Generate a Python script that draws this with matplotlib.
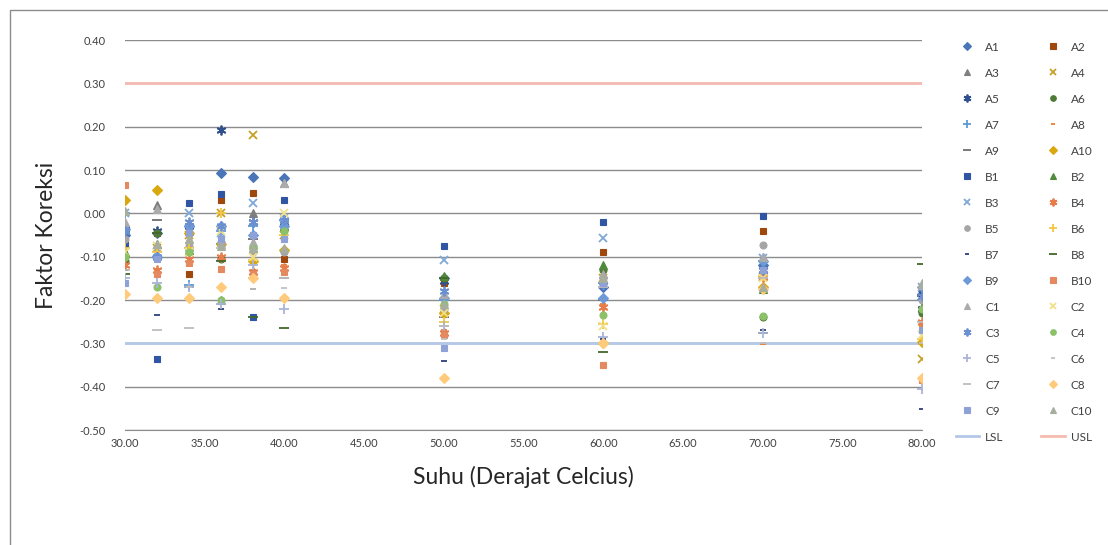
import numpy as np
import matplotlib.pyplot as plt
from matplotlib.patches import Rectangle

plt.rcParams['font.family'] = ['Lato', 'DejaVu Sans']

# Suhu (x) dan faktor koreksi tiap sampel
suhu = [30, 32, 34, 36, 38, 40, 50, 60, 70, 80]

A1 = [-0.05, -0.045, -0.03, 0.093, 0.083, 0.082, -0.15, -0.17, -0.12, -0.185]
A2 = [-0.10, -0.045, -0.14, 0.03, 0.048, -0.105, -0.16, -0.09, -0.04, -0.22]
A3 = [-0.03, 0.02, -0.04, -0.06, 0.0, 0.07, -0.19, -0.14, -0.10, -0.17]
A4 = [-0.09, -0.08, -0.05, 0.0, 0.18, -0.05, -0.22, -0.15, -0.147, -0.337]
A5 = [-0.035, -0.04, -0.03, 0.193, -0.02, -0.02, -0.155, -0.165, -0.13, -0.22]
A6 = [-0.11, -0.045, -0.085, -0.105, -0.08, -0.035, -0.15, -0.13, -0.24, -0.23]
A7 = [0.0, -0.10, -0.165, -0.04, -0.03, -0.015, -0.20, -0.16, -0.11, -0.20]
A8 = [-0.10, -0.13, -0.11, -0.11, -0.13, -0.12, -0.27, -0.21, -0.302, -0.26]
A9 = [-0.04, -0.015, -0.08, -0.07, -0.06, -0.15, -0.24, -0.20, -0.15, -0.19]
A10 = [0.03, 0.055, -0.045, -0.07, -0.11, -0.085, -0.23, -0.30, -0.17, -0.298]
B1 = [-0.07, -0.335, 0.025, 0.045, -0.24, 0.03, -0.076, -0.02, -0.007, -0.185]
B2 = [-0.09, -0.07, -0.085, -0.20, -0.08, -0.03, -0.145, -0.12, -0.175, -0.215]
B3 = [0.0, -0.09, 0.0, -0.045, 0.023, -0.01, -0.107, -0.058, -0.104, -0.17]
B4 = [-0.12, -0.13, -0.105, -0.10, -0.135, -0.125, -0.277, -0.215, -0.147, -0.25]
B5 = [-0.06, -0.08, -0.075, -0.075, -0.09, -0.09, -0.22, -0.15, -0.072, -0.20]
B6 = [-0.08, -0.09, -0.08, 0.0, -0.108, -0.05, -0.25, -0.255, -0.145, -0.29]
B7 = [-0.13, -0.235, -0.20, -0.22, -0.175, -0.20, -0.34, -0.29, -0.27, -0.452]
B8 = [-0.14, -0.045, -0.17, -0.11, -0.24, -0.265, -0.15, -0.32, -0.275, -0.118]
B9 = [-0.035, -0.10, -0.03, -0.03, -0.05, -0.03, -0.195, -0.195, -0.11, -0.17]
B10 = [0.065, -0.14, -0.115, -0.128, -0.14, -0.135, -0.28, -0.35, -0.14, -0.385]
C1 = [-0.02, 0.01, -0.06, -0.06, -0.065, 0.07, -0.185, -0.14, -0.10, -0.165]
C2 = [-0.09, -0.075, -0.09, -0.04, -0.10, 0.0, -0.23, -0.26, -0.15, -0.28]
C3 = [-0.04, -0.10, -0.02, -0.03, -0.02, -0.015, -0.18, -0.165, -0.13, -0.19]
C4 = [-0.10, -0.17, -0.09, -0.20, -0.08, -0.04, -0.21, -0.235, -0.236, -0.22]
C5 = [-0.15, -0.16, -0.17, -0.21, -0.12, -0.22, -0.26, -0.285, -0.275, -0.405]
C6 = [-0.16, -0.20, -0.17, -0.17, -0.175, -0.172, -0.29, -0.30, -0.30, -0.30]
C7 = [-0.13, -0.27, -0.265, -0.08, -0.15, -0.15, -0.26, -0.17, -0.15, -0.25]
C8 = [-0.185, -0.195, -0.195, -0.17, -0.15, -0.195, -0.38, -0.30, -0.174, -0.38]
C9 = [-0.16, -0.105, -0.045, -0.06, -0.05, -0.06, -0.31, -0.16, -0.13, -0.27]
C10 = [0.005, -0.07, -0.06, -0.075, -0.08, -0.08, -0.21, -0.15, -0.17, -0.16]

names = ['A1', 'A2', 'A3', 'A4', 'A5', 'A6', 'A7', 'A8', 'A9', 'A10',
         'B1', 'B2', 'B3', 'B4', 'B5', 'B6', 'B7', 'B8', 'B9', 'B10',
         'C1', 'C2', 'C3', 'C4', 'C5', 'C6', 'C7', 'C8', 'C9', 'C10']
series = [A1, A2, A3, A4, A5, A6, A7, A8, A9, A10,
          B1, B2, B3, B4, B5, B6, B7, B8, B9, B10,
          C1, C2, C3, C4, C5, C6, C7, C8, C9, C10]

LSL = -0.30
USL = 0.30

colors = ['#4A76B8', '#9E480E', '#7F7F7F', '#C8A028', '#2F4F8F', '#4E7A35',
          '#5B9BD5', '#ED7D31', '#6E6E6E', '#D9A80E',
          '#2F55A4', '#4F8A3A', '#7FA8D9', '#E87C4A', '#A5A5A5', '#F2C744',
          '#2E3F7A', '#43682B', '#6E9BD8', '#E58A60',
          '#ABABAB', '#F0E08A', '#6C8FCF', '#8CC168', '#A9B4D8', '#C0C0C0',
          '#BDBDBD', '#FFCB7A', '#8FA2D8', '#A8AE9E']

# urutan penanda ala Excel (siklus 9)
mk_cycle = [('D', 5), ('s', 5), ('^', 6), ('x', 6), ((6, 2, 0), 7),
            ('o', 5), ('+', 7), ('_', 4), ('_', 7)]

fig = plt.figure(figsize=(11.08, 5.45), dpi=100)
ax = fig.add_axes([125 / 1108, 1 - 430 / 545, (922 - 125) / 1108, 390 / 545])

handles = []
for i, (nm, ys) in enumerate(zip(names, series)):
    m, ms = mk_cycle[i % 9]
    mew = 1.3 if m in ('x', '+', '_') or isinstance(m, tuple) else 0.8
    h, = ax.plot(suhu, ys, linestyle='none', marker=m, markersize=ms,
                 color=colors[i], markeredgewidth=mew, label=nm, zorder=3)
    handles.append(h)

hl, = ax.plot([suhu[0], suhu[-1]], [LSL, LSL], color='#B4C7E7', lw=2, label='LSL', zorder=2)
hu, = ax.plot([suhu[0], suhu[-1]], [USL, USL], color='#F4BCB0', lw=2, label='USL', zorder=2)
handles += [hl, hu]

ax.set_xlim(30, 80)
ax.set_ylim(-0.5, 0.4)
ax.set_xticks(np.arange(30, 81, 5))
ax.set_yticks(np.arange(-0.5, 0.41, 0.1))
ax.xaxis.set_major_formatter(lambda v, p: f'{round(v, 2) + 0.0:.2f}')
ax.yaxis.set_major_formatter(lambda v, p: f'{round(v, 2) + 0.0:.2f}')
ax.tick_params(length=0, labelsize=8, colors='#404040')
ax.tick_params(axis='x', pad=6)
ax.tick_params(axis='y', pad=14)
ax.grid(axis='y', color='#8C8C8C', lw=1)
ax.set_axisbelow(True)
for s in ['left', 'right', 'top']:
    ax.spines[s].set_visible(False)
ax.spines['bottom'].set_color('#8C8C8C')

ax.set_xlabel('Suhu (Derajat Celcius)', fontsize=16.5, color='#262626', labelpad=12)
ax.set_ylabel('Faktor Koreksi', fontsize=16.5, color='#262626', labelpad=16)

# legenda 2 kolom, isi per baris
order = handles[0::2] + handles[1::2]
leg = fig.legend(order, [h.get_label() for h in order], ncol=2,
                 loc='upper left', bbox_to_anchor=(945 / 1108, 1 - 31 / 545),
                 frameon=False, fontsize=8.5, labelspacing=1.27,
                 columnspacing=3.2, handlelength=2.0, handletextpad=0.5,
                 markerscale=0.8, labelcolor='#404040')

# bingkai chart
fig.patches.append(Rectangle((10 / 1108, -0.05), 1.2, 1 - 10 / 545 + 0.05,
                             transform=fig.transFigure, fill=False,
                             edgecolor='#8C8C8C', lw=1))

fig.savefig('out.png', dpi=100)
